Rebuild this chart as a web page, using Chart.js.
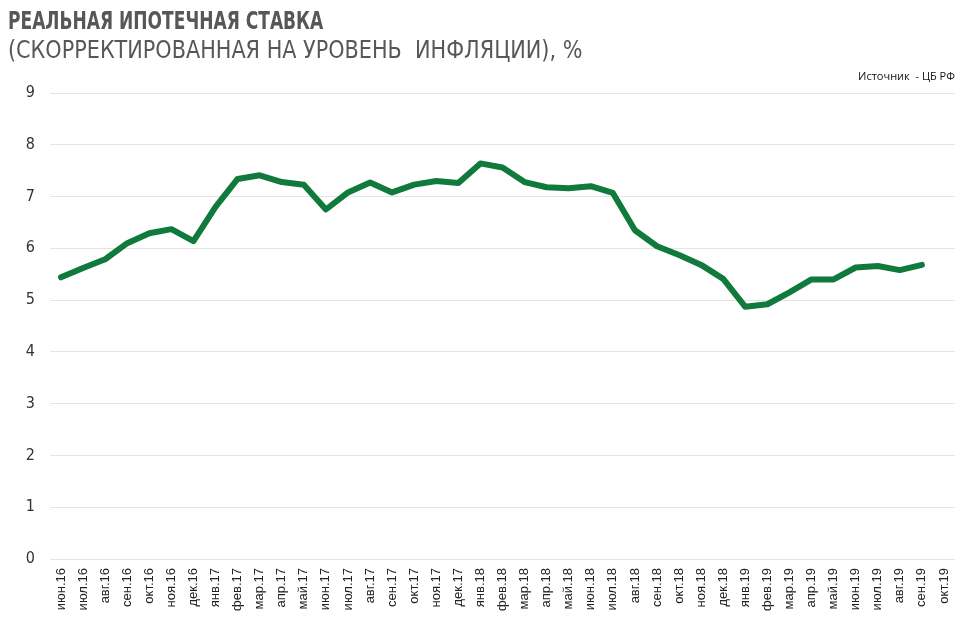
<!DOCTYPE html>
<html>
<head>
<meta charset="utf-8">
<script src="https://cdn.jsdelivr.net/npm/chart.js@4"></script>
<style>
  html, body { margin: 0; padding: 0; background: #fff; }
  #wrap { position: relative; width: 973px; height: 627px; }
  #title1, #title2 { position: absolute; left: 8px; color: #575757; white-space: pre;
    font-family: "DejaVu Sans Condensed", "DejaVu Sans", sans-serif; font-size: 24px; line-height: 1;
    transform-origin: 0 0; }
  #title1 { top: 9px; font-weight: bold; transform: scaleX(0.79); }
  #title2 { top: 38px; transform: scaleX(0.962); }
  #source { position: absolute; right: 18px; top: 68px; font-family: "Open Sans", sans-serif;
    font-size: 11px; color: #111; white-space: pre; }
</style>
</head>
<body>
<div id="wrap">
  <canvas id="rateChart" width="973" height="627"></canvas>
  <div id="title1">РЕАЛЬНАЯ ИПОТЕЧНАЯ СТАВКА</div>
  <div id="title2">(СКОРРЕКТИРОВАННАЯ НА УРОВЕНЬ  ИНФЛЯЦИИ), %</div>
  <div id="source">Источник  - ЦБ РФ</div>
</div>
<script>
const months = [
  'июн.16', 'июл.16', 'авг.16', 'сен.16', 'окт.16', 'ноя.16', 'дек.16',
  'янв.17', 'фев.17', 'мар.17', 'апр.17', 'май.17', 'июн.17', 'июл.17', 'авг.17', 'сен.17', 'окт.17', 'ноя.17', 'дек.17',
  'янв.18', 'фев.18', 'мар.18', 'апр.18', 'май.18', 'июн.18', 'июл.18', 'авг.18', 'сен.18', 'окт.18', 'ноя.18', 'дек.18',
  'янв.19', 'фев.19', 'мар.19', 'апр.19', 'май.19', 'июн.19', 'июл.19', 'авг.19', 'сен.19', 'окт.19'
];
const realRate = [
  5.44, 5.62, 5.79, 6.10, 6.29, 6.37, 6.14,
  6.80, 7.34, 7.41, 7.28, 7.23, 6.75, 7.08, 7.27, 7.08, 7.23, 7.30, 7.26,
  7.64, 7.56, 7.28, 7.18, 7.16, 7.20, 7.07, 6.35, 6.04, 5.87, 5.68, 5.41,
  4.87, 4.92, 5.15, 5.40, 5.40, 5.63, 5.66, 5.58, 5.68, null
];
const yTicks = [0, 1, 2, 3, 4, 5, 6, 7, 8, 9];

const ctx = document.getElementById('rateChart').getContext('2d');
const rateChart = new Chart(ctx, {
  type: 'line',
  data: {
    labels: months,
    datasets: [{
      label: 'Реальная ипотечная ставка',
      data: realRate,
      borderColor: '#0f7a3b',
      borderWidth: 6,
      borderCapStyle: 'round',
      borderJoinStyle: 'round',
      tension: 0,
      pointRadius: 0,
      spanGaps: false
    }]
  },
  options: {
    responsive: false,
    animation: false,
    layout: { padding: { top: 93, right: 18, left: 0, bottom: 0 } },
    plugins: {
      legend: { display: false },
      tooltip: { enabled: false }
    },
    scales: {
      x: {
        offset: true,
        grid: { display: false },
        border: { display: false },
        afterFit: scale => { scale.height = 68; },
        ticks: {
          autoSkip: false,
          maxRotation: 90,
          minRotation: 90,
          padding: 1,
          color: '#222',
          font: { family: 'Liberation Sans', size: 13 }
        }
      },
      y: {
        min: 0,
        max: 9,
        afterFit: scale => { scale.width = 50; },
        afterBuildTicks: scale => { scale.ticks = yTicks.map(v => ({ value: v })); },
        grid: { color: '#e4e4e4', lineWidth: 1, drawTicks: false },
        border: { display: false },
        ticks: {
          padding: 15,
          color: '#333',
          font: { family: 'DejaVu Sans Condensed', size: 16 }
        }
      }
    }
  }
});
</script>
</body>
</html>
